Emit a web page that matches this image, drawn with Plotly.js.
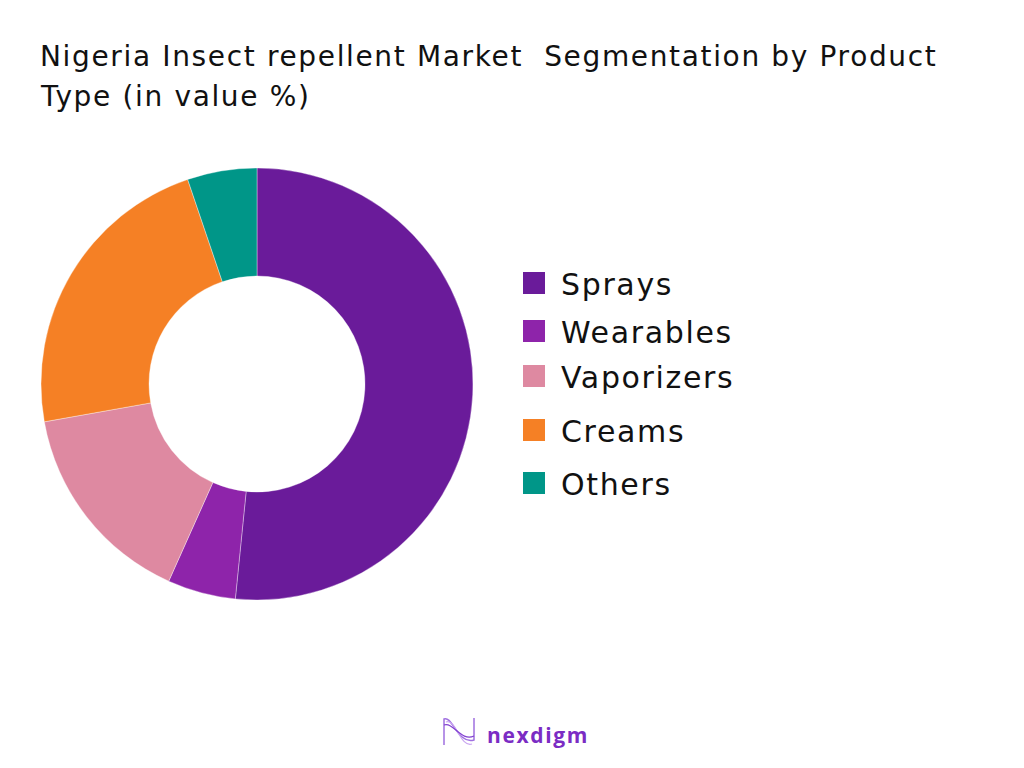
<!DOCTYPE html>
<html>
<head>
<meta charset="utf-8">
<script src="https://cdn.plot.ly/plotly-3.0.1.min.js"></script>
<style>
  html, body { margin: 0; padding: 0; background: #ffffff; }
  #chart { width: 1024px; height: 768px; }
  .gtitle { letter-spacing: 1.65px; }
  .annotation-text { letter-spacing: 1.65px; }
</style>
</head>
<body>
<div id="chart"></div>
<script>
// ---- data ----
const categories = ["Sprays", "Wearables", "Vaporizers", "Creams", "Others"];
const shares = [51.6, 5.1, 15.5, 22.6, 5.2];
const colors = ["#6A1B9A", "#8E24AA", "#DE89A1", "#F58025", "#009688"];
const titleLine1 = "Nigeria Insect repellent Market  Segmentation by Product";
const titleLine2 = "Type (in value %)";
const brand = "nexdigm";

// ---- layout helpers (pixel -> paper) ----
const W = 1024, H = 768;
const px = x => x / W;
const py = y => 1 - y / H;

const cx = 257, cy = 384, R = 216;

const trace = {
  type: "pie",
  labels: categories,
  values: shares,
  sort: false,
  direction: "clockwise",
  rotation: 0,
  hole: 0.5,
  textinfo: "none",
  hoverinfo: "label+percent",
  marker: { colors: colors, line: { color: "rgba(255,255,255,0.6)", width: 0.6 } },
  domain: { x: [px(cx - R), px(cx + R)], y: [py(cy + R), py(cy - R)] },
  showlegend: false
};

// custom legend built from categories / colors
const legendY = [283, 331, 376, 430, 483];
const shapes = [];
const annotations = [];
categories.forEach((c, i) => {
  const yc = legendY[i];
  shapes.push({
    type: "rect", xref: "paper", yref: "paper",
    x0: px(523), x1: px(545), y0: py(yc + 11), y1: py(yc - 11),
    fillcolor: colors[i], line: { width: 0 }
  });
  annotations.push({
    xref: "paper", yref: "paper", x: px(559), y: py(yc + 1),
    xanchor: "left", yanchor: "middle", showarrow: false,
    text: c,
    font: { family: "DejaVu Sans", size: 30, color: "#111111" }
  });
});

// second title line
annotations.push({
  xref: "paper", yref: "paper", x: px(38), y: py(115),
  xanchor: "left", yanchor: "bottom", showarrow: false,
  text: titleLine2,
  font: { family: "DejaVu Sans", size: 28, color: "#111111" }
});

// brand logo text
annotations.push({
  xref: "paper", yref: "paper", x: px(485), y: py(735),
  xanchor: "left", yanchor: "middle", showarrow: false,
  text: "<b>" + brand + "</b>",
  font: { family: "Open Sans", size: 21, color: "#7B2CC4" }
});

// brand icon (decorative wave N)
shapes.push(
  { type: "path", xref: "paper", yref: "paper",
    path: `M ${px(444)} ${py(745)} L ${px(444)} ${py(719)} C ${px(452)} ${py(715)}, ${px(458)} ${py(745)}, ${px(474)} ${py(740)} L ${px(474)} ${py(718)}`,
    line: { color: "#A070E0", width: 1.5 } },
  { type: "path", xref: "paper", yref: "paper",
    path: `M ${px(446)} ${py(722)} C ${px(456)} ${py(718)}, ${px(460)} ${py(748)}, ${px(472)} ${py(744)}`,
    line: { color: "#C9A6F0", width: 1.2 } },
  { type: "path", xref: "paper", yref: "paper",
    path: `M ${px(444)} ${py(725)} C ${px(454)} ${py(722)}, ${px(461)} ${py(742)}, ${px(474)} ${py(736)}`,
    line: { color: "#8040D0", width: 1.2 } }
);

const layout = {
  width: W, height: H,
  margin: { l: 0, r: 0, t: 0, b: 0 },
  paper_bgcolor: "#ffffff",
  plot_bgcolor: "#ffffff",
  title: {
    text: titleLine1,
    x: px(40), xref: "paper", xanchor: "left",
    y: py(66), yref: "paper", yanchor: "bottom",
    font: { family: "DejaVu Sans", size: 28, color: "#111111" }
  },
  shapes: shapes,
  annotations: annotations,
  showlegend: false
};

Plotly.newPlot("chart", [trace], layout, { displayModeBar: false, staticPlot: true });
</script>
</body>
</html>
